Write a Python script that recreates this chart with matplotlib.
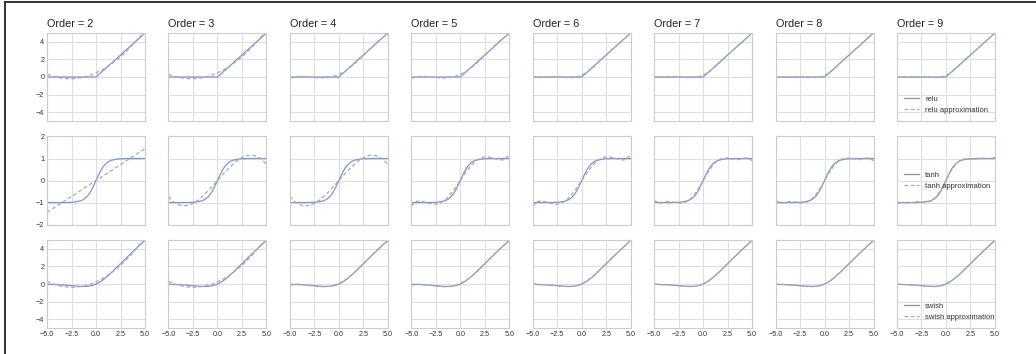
import matplotlib
matplotlib.use("Agg")
import matplotlib.pyplot as plt
from matplotlib.lines import Line2D

plt.rcParams["font.family"] = ["Liberation Sans", "DejaVu Sans"]

ORDERS = [2, 3, 4, 5, 6, 7, 8, 9]
FUNCS = ["relu", "tanh", "swish"]

# x grids (step 0.5 for the fits, 0.25 for the smooth activations)
X_COARSE = [-5.0, -4.5, -4.0, -3.5, -3.0, -2.5, -2.0, -1.5, -1.0, -0.5, 0.0,
            0.5, 1.0, 1.5, 2.0, 2.5, 3.0, 3.5, 4.0, 4.5, 5.0]
X_FINE = [-5.0, -4.75, -4.5, -4.25, -4.0, -3.75, -3.5, -3.25, -3.0, -2.75, -2.5,
          -2.25, -2.0, -1.75, -1.5, -1.25, -1.0, -0.75, -0.5, -0.25, 0.0,
          0.25, 0.5, 0.75, 1.0, 1.25, 1.5, 1.75, 2.0, 2.25, 2.5,
          2.75, 3.0, 3.25, 3.5, 3.75, 4.0, 4.25, 4.5, 4.75, 5.0]

# true activations
RELU = [0, 0, 0, 0, 0, 0, 0, 0, 0, 0, 0,
        0.5, 1.0, 1.5, 2.0, 2.5, 3.0, 3.5, 4.0, 4.5, 5.0]
TANH = [-1.00, -1.00, -1.00, -1.00, -1.00, -1.00, -1.00, -1.00, -1.00, -0.99, -0.99,
        -0.98, -0.96, -0.94, -0.91, -0.85, -0.76, -0.64, -0.46, -0.24, 0.00,
        0.24, 0.46, 0.64, 0.76, 0.85, 0.91, 0.94, 0.96, 0.98, 0.99,
        0.99, 1.00, 1.00, 1.00, 1.00, 1.00, 1.00, 1.00, 1.00, 1.00]
SWISH = [-0.03, -0.04, -0.05, -0.06, -0.07, -0.09, -0.10, -0.12, -0.14, -0.17, -0.19,
         -0.21, -0.24, -0.26, -0.27, -0.28, -0.27, -0.24, -0.19, -0.11, 0.00,
         0.14, 0.31, 0.51, 0.73, 0.97, 1.23, 1.49, 1.76, 2.04, 2.31,
         2.58, 2.86, 3.13, 3.40, 3.66, 3.93, 4.19, 4.45, 4.71, 4.97]

# polynomial approximations (on X_COARSE)
RELU_D2 = [0.31, 0.12, -0.03, -0.13, -0.19, -0.20, -0.16, -0.07, 0.06, 0.24, 0.47,
           0.74, 1.06, 1.43, 1.84, 2.30, 2.81, 3.37, 3.97, 4.62, 5.31]
RELU_D4 = [-0.15, 0.02, 0.08, 0.06, 0.00, -0.06, -0.10, -0.10, -0.05, 0.08, 0.29,
           0.58, 0.95, 1.40, 1.90, 2.44, 3.00, 3.56, 4.08, 4.52, 4.85]
RELU_D6 = [0.09, -0.04, -0.02, 0.03, 0.05, 0.02, -0.03, -0.07, -0.07, 0.02, 0.21,
           0.52, 0.93, 1.43, 1.97, 2.52, 3.05, 3.53, 3.98, 4.46, 5.09]
RELU_D8 = [-0.07, 0.03, -0.02, -0.02, 0.01, 0.03, 0.02, -0.03, -0.06, -0.01, 0.17,
           0.49, 0.94, 1.47, 2.02, 2.53, 3.01, 3.48, 3.98, 4.53, 4.93]

TANH_D2 = [-1.45, -1.30, -1.16, -1.01, -0.87, -0.72, -0.58, -0.43, -0.29, -0.14, 0.00,
           0.14, 0.29, 0.43, 0.58, 0.72, 0.87, 1.01, 1.16, 1.30, 1.45]
TANH_D3 = [-0.73, -0.97, -1.10, -1.15, -1.13, -1.04, -0.90, -0.71, -0.49, -0.25, 0.00,
           0.25, 0.49, 0.71, 0.90, 1.04, 1.13, 1.15, 1.10, 0.97, 0.73]
TANH_D5 = [-1.16, -0.95, -0.93, -1.00, -1.06, -1.08, -1.02, -0.86, -0.63, -0.33, 0.00,
           0.33, 0.63, 0.86, 1.02, 1.08, 1.06, 1.00, 0.93, 0.95, 1.16]
TANH_D7 = [-0.90, -1.04, -0.99, -0.95, -0.98, -1.02, -1.02, -0.92, -0.70, -0.38, 0.00,
           0.38, 0.70, 0.92, 1.02, 1.02, 0.98, 0.95, 0.99, 1.04, 0.90]
TANH_D9 = [-1.06, -0.99, -1.02, -1.00, -0.97, -0.98, -0.99, -0.93, -0.74, -0.42, 0.00,
           0.42, 0.74, 0.93, 0.99, 0.98, 0.97, 1.00, 1.02, 0.99, 1.06]

SWISH_D2 = [0.30, 0.06, -0.12, -0.26, -0.34, -0.37, -0.35, -0.28, -0.16, 0.02, 0.24,
            0.52, 0.84, 1.22, 1.65, 2.13, 2.66, 3.24, 3.88, 4.56, 5.30]
SWISH_D4 = [-0.15, -0.03, -0.02, -0.07, -0.15, -0.24, -0.30, -0.31, -0.26, -0.14, 0.07,
            0.36, 0.74, 1.19, 1.70, 2.26, 2.85, 3.43, 3.98, 4.47, 4.85]
SWISH_D6 = [0.01, -0.07, -0.08, -0.09, -0.13, -0.19, -0.25, -0.29, -0.28, -0.18, 0.02,
            0.32, 0.72, 1.21, 1.75, 2.31, 2.87, 3.41, 3.92, 4.43, 5.01]
SWISH_D8 = [-0.05, -0.04, -0.08, -0.11, -0.14, -0.18, -0.24, -0.28, -0.27, -0.19, 0.01,
            0.31, 0.73, 1.22, 1.76, 2.32, 2.86, 3.39, 3.92, 4.46, 4.95]

TRUE = {
    "relu": (X_COARSE, RELU),
    "tanh": (X_FINE, TANH),
    "swish": (X_FINE, SWISH),
}
APPROX = {
    "relu": {2: RELU_D2, 3: RELU_D2, 4: RELU_D4, 5: RELU_D4,
             6: RELU_D6, 7: RELU_D6, 8: RELU_D8, 9: RELU_D8},
    "tanh": {2: TANH_D2, 3: TANH_D3, 4: TANH_D3, 5: TANH_D5,
             6: TANH_D5, 7: TANH_D7, 8: TANH_D7, 9: TANH_D9},
    "swish": {2: SWISH_D2, 3: SWISH_D2, 4: SWISH_D4, 5: SWISH_D4,
              6: SWISH_D6, 7: SWISH_D6, 8: SWISH_D8, 9: SWISH_D8},
}

YLIM = {"relu": (-5, 5), "tanh": (-2, 2), "swish": (-5, 5)}
YTICKS = {"relu": [-4, -2, 0, 2, 4], "tanh": [-2, -1, 0, 1, 2], "swish": [-4, -2, 0, 2, 4]}
LEGEND_LOC = {"relu": "lower left", "tanh": "center left", "swish": "lower left"}

BLUE = "#7d97d4"
GRAY = "#aaaaaa"
GRID = "#dedede"
EDGE = "#cccccc"

fig, axes = plt.subplots(3, 8, figsize=(10.36, 3.54), dpi=100,
                         sharex=True, sharey="row")
fig.subplots_adjust(left=0.0454, right=0.9604, top=0.9068, bottom=0.0734,
                    wspace=0.239, hspace=0.176)

for r, func in enumerate(FUNCS):
    for c, order in enumerate(ORDERS):
        ax = axes[r, c]
        xt, yt = TRUE[func]
        ax.plot(xt, yt, color=BLUE, lw=0.9, label=func)
        ax.plot(X_COARSE, APPROX[func][order], color=GRAY, lw=0.9,
                dashes=(3, 2), label=f"{func} approximation")

        ax.set_xlim(-5, 5)
        ax.set_ylim(*YLIM[func])
        ax.set_xticks([-5, -2.5, 0, 2.5, 5])
        ax.set_yticks(YTICKS[func])
        ax.grid(True, color=GRID, lw=0.8)
        ax.set_axisbelow(True)
        ax.tick_params(length=0, labelsize=5.2, colors="#333333", pad=2)
        for s in ax.spines.values():
            s.set_color(EDGE)
            s.set_linewidth(0.8)

        if r == 0:
            ax.set_title(f"Order = {order}", loc="left", fontsize=7.8,
                         color="#222222", pad=4)
        if c == len(ORDERS) - 1:
            ax.legend(loc=LEGEND_LOC[func], fontsize=5.5, frameon=False,
                      labelcolor="#333333", handlelength=2.0)

# partial dark frame (left and top edges) seen in the reference
fig.add_artist(Line2D([5 / 1036, 5 / 1036], [0, 1 - 2 / 354],
                      transform=fig.transFigure, color="#333333", lw=1.4))
fig.add_artist(Line2D([5 / 1036, 1], [1 - 2 / 354, 1 - 2 / 354],
                      transform=fig.transFigure, color="#333333", lw=1.4))

fig.savefig("out.png", dpi=100)
